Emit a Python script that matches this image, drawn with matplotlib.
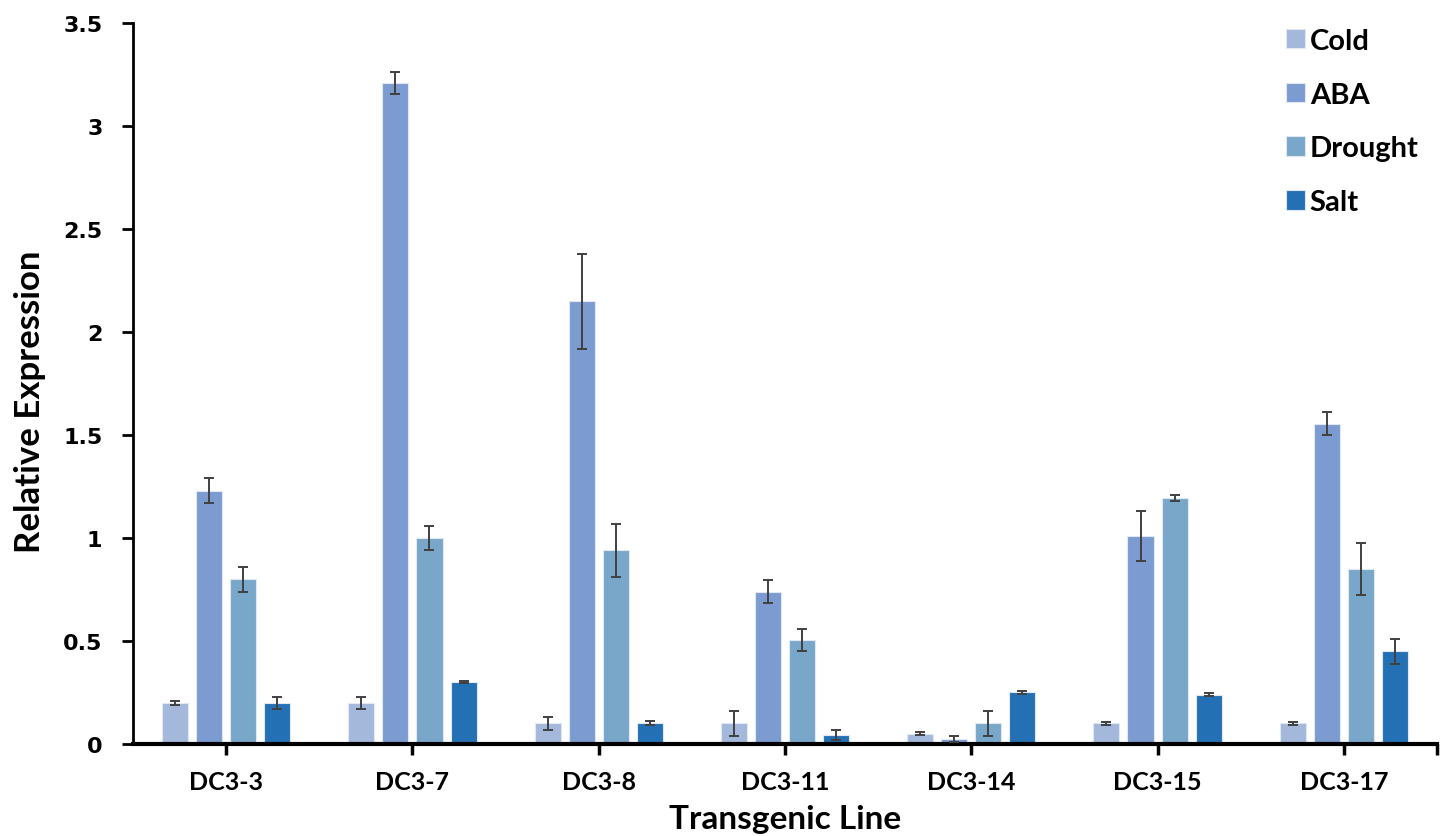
import numpy as np
import matplotlib.pyplot as plt

# transgenic lines and treatments
lines = ['DC3-3', 'DC3-7', 'DC3-8', 'DC3-11', 'DC3-14', 'DC3-15', 'DC3-17']
treatments = ['Cold', 'ABA', 'Drought', 'Salt']

cold = [0.20, 0.20, 0.10, 0.10, 0.05, 0.10, 0.10]
aba = [1.23, 3.21, 2.15, 0.74, 0.025, 1.01, 1.555]
drought = [0.80, 1.00, 0.94, 0.505, 0.10, 1.195, 0.85]
salt = [0.20, 0.30, 0.10, 0.045, 0.25, 0.24, 0.45]

cold_err = [0.01, 0.03, 0.03, 0.06, 0.008, 0.006, 0.006]
aba_err = [0.06, 0.055, 0.23, 0.055, 0.015, 0.12, 0.057]
drought_err = [0.06, 0.06, 0.13, 0.055, 0.06, 0.015, 0.125]
salt_err = [0.03, 0.005, 0.01, 0.025, 0.008, 0.005, 0.06]

colors = ['#a3b8db', '#7b9bd1', '#79a7ca', '#2470b4']

plt.rcParams['font.family'] = ['Lato', 'DejaVu Sans']

fig = plt.figure(figsize=(14.49, 8.37), dpi=100)
ax = fig.add_axes([0.0918, 0.110, 0.8999, 0.861])

x = np.arange(len(lines))
pitch = 0.183
width = 0.14
series = [(cold, cold_err), (aba, aba_err), (drought, drought_err), (salt, salt_err)]
for i, (vals, errs) in enumerate(series):
    ax.bar(x + (i - 1.5) * pitch, vals, width, color=colors[i],
           edgecolor='#dfe8f4', linewidth=0.8, label=treatments[i], zorder=2)
    ax.errorbar(x + (i - 1.5) * pitch, vals, yerr=errs, fmt='none',
                ecolor='#404040', elinewidth=1.4, capsize=3.5, capthick=1.4, zorder=3)

ax.set_xlim(-0.5, 6.5)
ax.set_ylim(0, 3.5)
ax.set_yticks([0, 0.5, 1, 1.5, 2, 2.5, 3, 3.5])
ax.set_yticklabels(['0', '0.5', '1', '1.5', '2', '2.5', '3', '3.5'],
                   family='DejaVu Sans', fontweight='bold', fontsize=16)
ax.set_xticks(x)
ax.set_xticklabels(lines, fontweight='bold', fontsize=18)
ax.set_xticks([6.5], minor=True)

ax.spines['top'].set_visible(False)
ax.spines['right'].set_visible(False)
ax.spines['bottom'].set_linewidth(3)
ax.spines['left'].set_linewidth(2)
ax.tick_params(axis='y', direction='out', length=8, width=2, pad=14)
ax.tick_params(axis='x', which='both', direction='out', length=8, width=2.5, pad=11)

ax.set_ylabel('Relative Expression', fontsize=25, fontweight='bold')
ax.yaxis.set_label_coords(-0.067, 0.476)
ax.set_xlabel('Transgenic Line', fontsize=24, fontweight='bold')
ax.xaxis.set_label_coords(0.5, -0.084)

ax.legend(loc='upper right', bbox_to_anchor=(1.006, 1.03), frameon=False,
          prop={'weight': 'bold', 'size': 21}, handlelength=0.65, handleheight=0.65,
          labelspacing=0.95, handletextpad=0.15)

plt.savefig('out.png')
